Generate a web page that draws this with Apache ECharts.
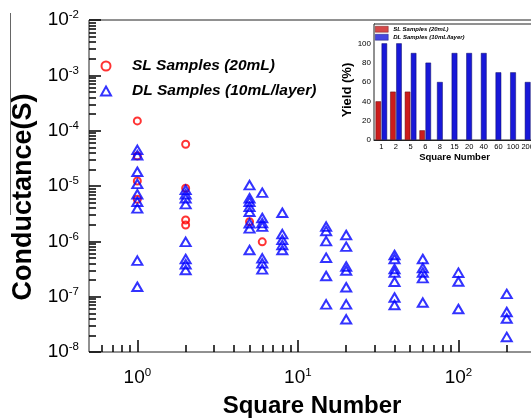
<!DOCTYPE html>
<html><head><meta charset="utf-8">
<script src="https://cdn.jsdelivr.net/npm/echarts@6/dist/echarts.min.js"></script>
<style>html,body{margin:0;padding:0;background:#fff}#c{width:531px;height:418px}</style>
</head><body><div id="c"></div>
<script>
const FONT = 'Liberation Sans, Arial, Helvetica, sans-serif';

// ---- main scatter data (Conductance vs Square Number) ----
const slX = [1, 1, 1, 1, 2, 2, 2, 2, 5, 6];
const slY = [1.5e-4, 3.5e-5, 1.23e-5, 5.75e-6, 5.67e-5, 9.1e-6, 2.43e-6, 1.97e-6, 2.26e-6, 9.8e-7];

const dlX = [
  1,1,1,1,1,1,1,1,1,
  2,2,2,2,2,2,2,2,
  5,5,5,5,5,5,5,5,
  6,6,6,6,6,6,6,
  8,8,8,8,8,
  15,15,15,15,15,15,
  20,20,20,20,20,20,20,
  40,40,40,40,40,40,40,
  60,60,60,60,60,
  100,100,100,
  200,200,200,200
];
const dlY = [
  4.5e-5, 3.6e-5, 1.81e-5, 1.09e-5, 7.1e-6, 5.2e-6, 3.95e-6, 4.47e-7, 1.51e-7,
  8.5e-6, 7.1e-6, 6.0e-6, 4.7e-6, 9.8e-7, 4.8e-7, 3.85e-7, 3.03e-7,
  1.04e-5, 6.0e-6, 5.2e-6, 4.2e-6, 3.43e-6, 2.12e-6, 1.72e-6, 6.97e-7,
  7.57e-6, 2.64e-6, 2.14e-6, 1.84e-6, 4.93e-7, 4.0e-7, 3.12e-7,
  3.29e-6, 1.35e-6, 1.06e-6, 8.6e-7, 6.97e-7,
  1.84e-6, 1.54e-6, 1.01e-6, 5.06e-7, 2.36e-7, 7.27e-8,
  1.3e-6, 8.0e-7, 3.51e-7, 2.97e-7, 1.48e-7, 7.27e-8, 3.9e-8,
  5.66e-7, 4.79e-7, 3.16e-7, 2.73e-7, 1.86e-7, 9.66e-8, 7.06e-8,
  4.79e-7, 3.3e-7, 2.73e-7, 2.17e-7, 7.83e-8,
  2.71e-7, 1.88e-7, 5.98e-8,
  1.12e-7, 5.28e-8, 4.03e-8, 1.87e-8
];

// tick label exponents (labels are 10^n)
const xMajorExp = [0, 1, 2];
const yMajorExp = [-8, -7, -6, -5, -4, -3, -2];

// ---- inset bar data (Yield vs Square Number) ----
const yieldCats = ['1', '2', '5', '6', '8', '15', '20', '40', '60', '100', '200'];
const yieldSL = [40, 50, 50, 10];
const yieldDL = [100, 100, 90, 80, 60, 90, 90, 90, 70, 70, 60];

const nameSL = 'SL Samples (20mL)';
const nameDL = 'DL Samples (10mL/layer)';

const X_MIN = 0.5, X_MAX = 300, Y_MIN = 1e-8, Y_MAX = 1e-2;
const lg = Math.log10;

const xMinor = [];
for (let d = -1; d <= 2; d++) for (let k = 2; k <= 9; k++) {
  const v = k * Math.pow(10, d);
  if (v > X_MIN && v <= X_MAX) xMinor.push(lg(v));
}
const yMinor = [];
for (let d = -8; d <= -3; d++) for (let k = 2; k <= 9; k++) yMinor.push(lg(k * Math.pow(10, d)));

const richLabel = {
  b: { fontSize: 19, fontFamily: FONT, color: '#000', lineHeight: 20 },
  s: { fontSize: 11.5, fontFamily: FONT, color: '#000', lineHeight: 12, padding: [0, 0, 10, 0] }
};
const powFmt = v => '{b|10}{s|' + Math.round(v) + '}';

const AX = '#222';
const TK = '#000';
const chart = echarts.init(document.getElementById('c'), null, { renderer: 'canvas' });

const nSL = yieldSL.length;
const option = {
  animation: false,
  backgroundColor: '#fff',
  textStyle: { fontFamily: FONT },
  grid: [
    { left: 89, top: 20, width: 446, height: 332, show: true, borderColor: AX, borderWidth: 1, backgroundColor: 'transparent', outerBoundsMode: 'none', containLabel: false },
    { left: 374, top: 24, width: 161, height: 116, show: true, borderColor: AX, borderWidth: 1, backgroundColor: '#fff', z: 3, outerBoundsMode: 'none', containLabel: false }
  ],
  xAxis: [
    { type: 'log', gridIndex: 0, min: X_MIN, max: X_MAX, show: false },
    { type: 'value', gridIndex: 0, min: lg(X_MIN), max: lg(X_MAX), position: 'bottom', z: 4,
      axisLine: { show: false, onZero: false }, splitLine: { show: false },
      axisTick: { show: true, inside: true, length: 12, customValues: xMajorExp, lineStyle: { color: TK, width: 1.5, opacity: 1 } },
      axisLabel: { show: true, customValues: xMajorExp, formatter: powFmt, rich: richLabel, margin: 16 },
      name: 'Square Number', nameLocation: 'middle', nameGap: 42,
      nameTextStyle: { fontSize: 24, fontWeight: 'bold', color: '#000', fontFamily: FONT } },
    { type: 'value', gridIndex: 0, min: lg(X_MIN), max: lg(X_MAX), position: 'bottom', z: 4,
      axisLine: { show: false, onZero: false }, splitLine: { show: false }, axisLabel: { show: false },
      axisTick: { show: true, inside: true, length: 7, customValues: xMinor, lineStyle: { color: TK, width: 1.5, opacity: 1 } } },
    { type: 'category', gridIndex: 1, data: yieldCats, position: 'bottom',
      axisLine: { onZero: false, lineStyle: { color: AX, width: 1 } }, axisTick: { show: false },
      axisLabel: { fontSize: 7.5, color: '#000', margin: 3, interval: 0, fontFamily: FONT },
      name: 'Square Number', nameLocation: 'middle', nameGap: 10,
      nameTextStyle: { fontSize: 9.5, fontWeight: 'bold', color: '#000', fontFamily: FONT } },
    { type: 'category', gridIndex: 1, data: yieldCats, show: false }
  ],
  yAxis: [
    { type: 'log', gridIndex: 0, min: Y_MIN, max: Y_MAX, show: false },
    { type: 'value', gridIndex: 0, min: -8, max: -2, interval: 1, position: 'left', z: 4,
      axisLine: { show: false, onZero: false }, splitLine: { show: false },
      axisTick: { show: true, inside: true, length: 12, lineStyle: { color: TK, width: 1.5, opacity: 1 } },
      axisLabel: { show: true, formatter: powFmt, rich: richLabel, margin: 10 },
      name: 'Conductance(S)', nameLocation: 'middle', nameGap: 52, nameRotate: 90,
      nameTextStyle: { fontSize: 27, fontWeight: 'bold', color: '#000', fontFamily: FONT, padding: [0, 22, 0, 0] } },
    { type: 'value', gridIndex: 0, min: -8, max: -2, position: 'left', z: 4,
      axisLine: { show: false, onZero: false }, splitLine: { show: false }, axisLabel: { show: false },
      axisTick: { show: true, inside: true, length: 7, customValues: yMinor, lineStyle: { color: TK, width: 1.5, opacity: 1 } } },
    { type: 'value', gridIndex: 1, min: 0, max: 120, interval: 20, position: 'left',
      axisLine: { show: true, onZero: false, lineStyle: { color: AX, width: 1 } }, splitLine: { show: false },
      axisTick: { show: true, inside: true, length: 3, lineStyle: { color: AX } },
      axisLabel: { fontSize: 8, color: '#000', margin: 3, fontFamily: FONT, formatter: v => (v > 100 ? '' : String(v)) },
      name: 'Yield (%)', nameLocation: 'middle', nameGap: 18, nameRotate: 90,
      nameTextStyle: { fontSize: 13, fontWeight: 'bold', color: '#000', fontFamily: FONT, padding: [0, 16, 0, 0] } }
  ],
  legend: [
    { orient: 'vertical', left: 100, top: 58, itemWidth: 10, itemHeight: 9, itemGap: 9, selectedMode: false, padding: 0,
      textStyle: { fontSize: 15.5, fontWeight: 'bold', fontStyle: 'italic', color: '#000', fontFamily: FONT, padding: [0, 0, 0, 16] },
      data: [
        { name: nameSL, icon: 'circle', itemStyle: { color: 'rgba(0,0,0,0)', borderColor: '#ff0000', borderWidth: 2 } },
        { name: nameDL, icon: 'triangle', itemStyle: { color: 'rgba(0,0,0,0)', borderColor: '#0000ff', borderWidth: 2 } }
      ] },
    { orient: 'vertical', left: 375, top: 26, itemWidth: 13, itemHeight: 6, itemGap: 1.5, selectedMode: false, padding: 0, z: 6,
      textStyle: { fontSize: 6, fontWeight: 'bold', fontStyle: 'italic', color: '#000', fontFamily: FONT },
      data: [
        { name: nameSL, icon: 'rect', itemStyle: { color: '#cc1c1c', borderColor: '#5a0a0a', borderWidth: 0.5 } },
        { name: nameDL, icon: 'rect', itemStyle: { color: '#1818d8', borderColor: '#0a0a60', borderWidth: 0.5 } }
      ] }
  ],
  graphic: [
    { type: 'line', shape: { x1: 10.5, y1: 13, x2: 10.5, y2: 215 }, style: { stroke: '#666', lineWidth: 1 }, silent: true }
  ],
  series: [
    { name: nameSL, type: 'scatter', xAxisIndex: 0, yAxisIndex: 0, symbol: 'circle', symbolSize: 7,
      itemStyle: { color: 'rgba(0,0,0,0)', borderColor: '#ff0000', borderWidth: 2 },
      data: slX.map((x, i) => [x, slY[i]]), z: 2 },
    { name: nameDL, type: 'scatter', xAxisIndex: 0, yAxisIndex: 0, symbol: 'triangle', symbolSize: [10, 8.5],
      itemStyle: { color: 'rgba(0,0,0,0)', borderColor: '#0000ff', borderWidth: 2 },
      data: dlX.map((x, i) => [x, dlY[i]]), z: 3 },
    { name: nameSL, type: 'bar', xAxisIndex: 3, yAxisIndex: 3, barWidth: 5.5, barGap: '10%', z: 5,
      itemStyle: { color: '#cc1c1c', borderColor: '#5a0a0a', borderWidth: 0.5 },
      data: yieldCats.map((c, i) => (i < nSL ? yieldSL[i] : '-')) },
    { name: nameDL, type: 'bar', xAxisIndex: 3, yAxisIndex: 3, barWidth: 5.5, barGap: '10%', z: 5,
      itemStyle: { color: '#1818d8', borderColor: '#0a0a60', borderWidth: 0.5 },
      data: yieldCats.map((c, i) => (i < nSL ? yieldDL[i] : '-')) },
    { name: nameDL, type: 'bar', xAxisIndex: 4, yAxisIndex: 3, barWidth: 5.7, z: 5,
      itemStyle: { color: '#1818d8', borderColor: '#0a0a60', borderWidth: 0.5 },
      data: yieldCats.map((c, i) => (i >= nSL ? yieldDL[i] : '-')) }
  ]
};
chart.setOption(option);
</script>
</body></html>
